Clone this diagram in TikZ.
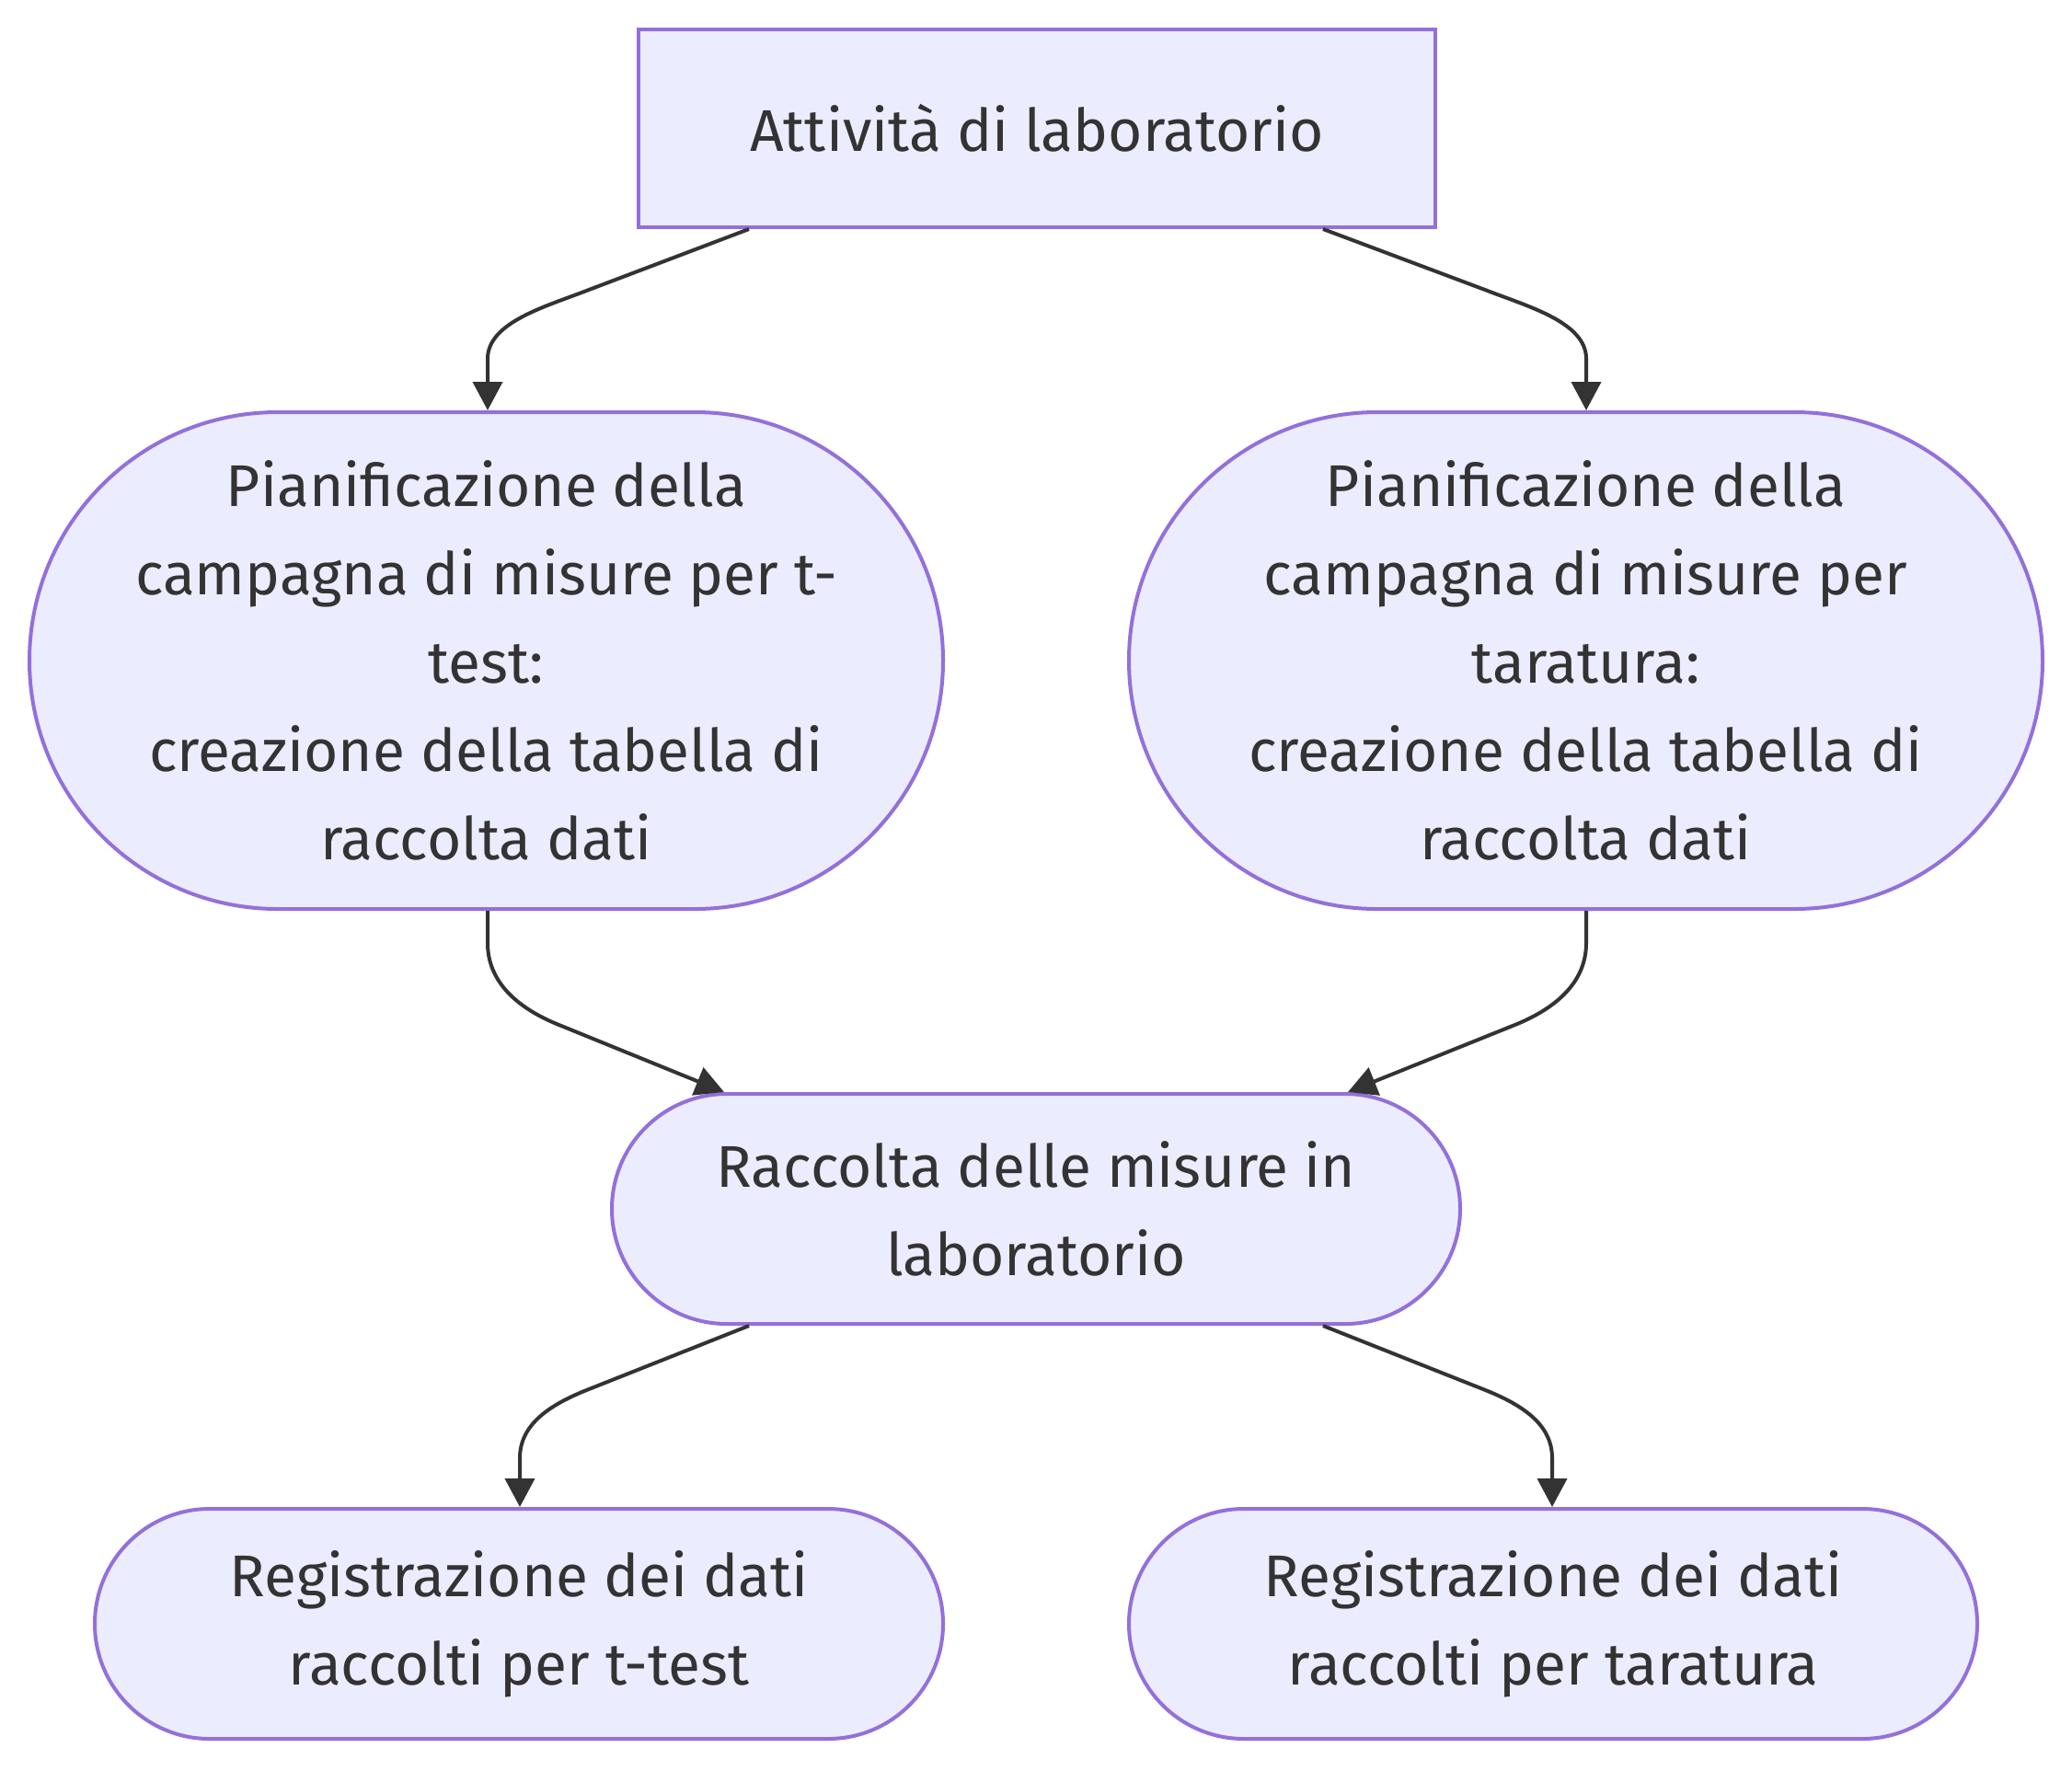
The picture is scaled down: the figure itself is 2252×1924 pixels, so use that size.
\documentclass[tikz,border=0pt]{standalone}
\usepackage{fontspec}
\setmainfont{Fira Sans}
\usetikzlibrary{arrows.meta}
\definecolor{nodefill}{HTML}{ECECFF}
\definecolor{nodeline}{HTML}{9370DB}
\definecolor{txt}{HTML}{333333}
\tikzset{
  box/.style={draw=nodeline, fill=nodefill, line width=2pt, text=txt, align=center, inner sep=0pt,
    font=\fontsize{32}{48}\selectfont},
  link/.style={draw=txt, line width=2pt, -{Triangle[length=15.5pt,width=16pt]}},
}
\begin{document}
\begin{tikzpicture}[x=0.5pt,y=-0.5pt]
\useasboundingbox (0,0) rectangle (2252,1924);
\node[box, minimum width=433pt, minimum height=107.5pt] (a) at (1127,139.5) {Attività di laboratorio};
\node[box, minimum width=496.5pt, minimum height=270pt, rounded corners=135pt] (p1) at (528.5,718)
  {Pianificazione della\\campagna di misure per t-\\test:\\creazione della tabella di\\raccolta dati};
\node[box, minimum width=496.5pt, minimum height=270pt, rounded corners=135pt] (p2) at (1723.5,718)
  {Pianificazione della\\campagna di misure per\\taratura:\\creazione della tabella di\\raccolta dati};
\node[box, minimum width=461pt, minimum height=125pt, rounded corners=62.5pt] (m) at (1126,1314)
  {Raccolta delle misure in\\laboratorio};
\node[box, minimum width=461pt, minimum height=125pt, rounded corners=62.5pt] (b1) at (564,1765)
  {Registrazione dei dati\\raccolti per t-test};
\node[box, minimum width=461pt, minimum height=125pt, rounded corners=62.5pt] (b2) at (1688,1765)
  {Registrazione dei dati\\raccolti per taratura};
\draw[link] ([xshift=-156.5pt]a.south) -- (640,315) .. controls (594,333) and (530,350) .. (530,390) -- (p1.north -| 530,0);
\draw[link] ([xshift=155.5pt]a.south) -- (1614,315) .. controls (1660,333) and (1724,350) .. (1724,390) -- (p2.north -| 1724,0);
\draw[link] (p1.south -| 530,0) -- (530,1025) .. controls (530,1065) and (559,1095) .. (610,1115) -- ([xshift=-169.5pt]m.north);
\draw[link] (p2.south -| 1724,0) -- (1724,1025) .. controls (1724,1065) and (1695,1095) .. (1644,1115) -- ([xshift=169.5pt]m.north);
\draw[link] ([xshift=-156pt]m.south) -- (640,1510) .. controls (594,1528) and (565,1550) .. (565,1585) -- (b1.north -| 565,0);
\draw[link] ([xshift=156pt]m.south) -- (1612,1510) .. controls (1658,1528) and (1687,1550) .. (1687,1585) -- (b2.north -| 1687,0);
\end{tikzpicture}
\end{document}
